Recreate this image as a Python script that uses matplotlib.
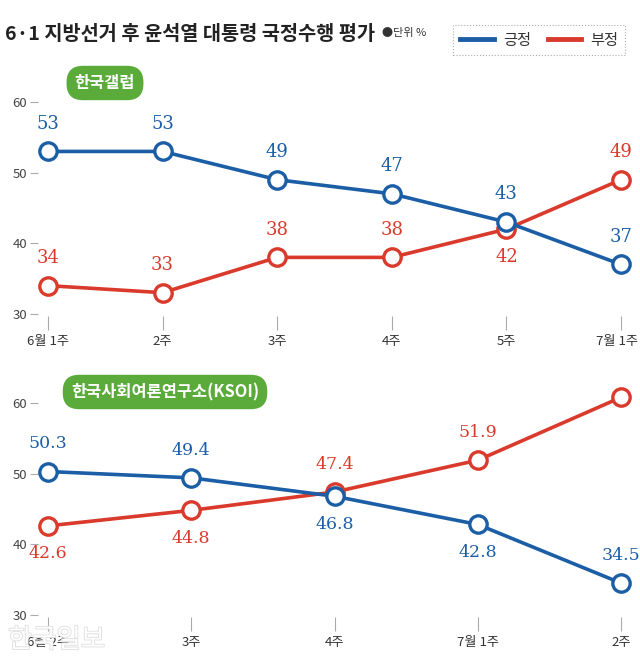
import matplotlib
matplotlib.use("Agg")
import matplotlib.pyplot as plt
from matplotlib.lines import Line2D
from matplotlib.transforms import ScaledTranslation
import matplotlib.patheffects as pe

plt.rcParams['font.family'] = ['Noto Sans CJK KR', 'DejaVu Sans']

# 한국갤럽
gallup_weeks = ['6월 1주', '2주', '3주', '4주', '5주', '7월 1주']
gallup_pos = [53, 53, 49, 47, 43, 37]
gallup_neg = [34, 33, 38, 38, 42, 49]

# 한국사회여론연구소(KSOI)
ksoi_weeks = ['6월 2주', '3주', '4주', '7월 1주', '2주']
ksoi_pos = [50.3, 49.4, 46.8, 42.8, 34.5]
ksoi_neg = [42.6, 44.8, 47.4, 51.9, 60.8]

BLUE = '#1b5ea6'
RED = '#da3a2b'
GREEN = '#5aab3a'
W, H = 640, 670

fig = plt.figure(figsize=(6.4, 6.7), dpi=100)


def px_axes(left, top, right, bottom):
    return fig.add_axes([left / W, 1 - bottom / H, (right - left) / W, (bottom - top) / H])


def draw_panel(ax, weeks, pos, neg, pos_side, neg_side, fmt, fs):
    x = list(range(len(weeks)))
    for vals, col, side in [(neg, RED, neg_side), (pos, BLUE, pos_side)]:
        ax.plot(x, vals, color=col, lw=2.6, marker='o', ms=12.5, mfc='white',
                mec=col, mew=2.4, clip_on=False, zorder=3)
        for xi, v, s in zip(x, vals, side):
            ax.annotate(fmt.format(v), (xi, v), xytext=(0, 20 * s), textcoords='offset points',
                        ha='center', va='center', color=col, fontsize=fs,
                        family='DejaVu Serif', zorder=4)
    n = len(weeks)
    pad = 10 * (n - 1) / 575
    ax.set_xlim(-pad, n - 1 + 11 * (n - 1) / 575)
    ax.set_ylim(29.7, 60)
    ax.set_yticks([30, 40, 50, 60])
    ax.set_xticks(x)
    ax.set_xticklabels(weeks)
    for s in ax.spines.values():
        s.set_visible(False)
    ax.tick_params(axis='y', length=6, width=0.8, color='#aaaaaa', labelsize=9.5,
                   labelcolor='#444444', pad=2)
    ax.tick_params(axis='x', length=10, width=0.8, color='#aaaaaa', labelsize=9.5,
                   labelcolor='#333333', pad=4)
    ax.patch.set_alpha(0)


ax1 = px_axes(38, 102, 632, 316)
draw_panel(ax1, gallup_weeks, gallup_pos, gallup_neg,
           [1, 1, 1, 1, 1, 1], [1, 1, 1, 1, -1, 1], '{:.0f}', 13)
# 마지막 라벨이 오른쪽 끝에서 잘리지 않게 살짝 왼쪽으로
last = ax1.get_xticklabels()[-1]
last.set_transform(last.get_transform() + ScaledTranslation(-4 / 100, 0, fig.dpi_scale_trans))

ax2 = px_axes(38, 403, 632, 617)
draw_panel(ax2, ksoi_weeks, ksoi_pos, ksoi_neg,
           [1, 1, -1, -1, 1], [-1, -1, 1, 1, -1], '{:.1f}', 12.5)

# 제목
fig.text(5 / W, 1 - 34 / H, '6·1 지방선거 후 윤석열 대통령 국정수행 평가', fontsize=14.2,
         fontweight='bold', color='#222222', va='center', ha='left')
fig.text(382 / W, 1 - 33 / H, '●단위 %', fontsize=8, color='#333333', va='center', ha='left')

# 범례
handles = [Line2D([], [], color=BLUE, lw=3.5), Line2D([], [], color=RED, lw=3.5)]
leg = fig.legend(handles, ['긍정', '부정'], loc='upper right', ncol=2,
                 bbox_to_anchor=(633 / W, 1 - 17 / H), fontsize=11, frameon=True,
                 handlelength=2.2, columnspacing=1.1, handletextpad=0.6,
                 borderpad=0.45, fancybox=False, labelcolor='#333333')
frame = leg.get_frame()
frame.set_edgecolor('#999999')
frame.set_linestyle(':')
frame.set_linewidth(0.8)

# 출처 배지
for cx, cy, label in [(105, 83, '한국갤럽'), (165, 392, '한국사회여론연구소(KSOI)')]:
    fig.text(cx / W, 1 - cy / H, label, fontsize=11.8, fontweight='bold', color='white',
             ha='center', va='center',
             bbox=dict(boxstyle='round,pad=0.5,rounding_size=1.0', fc=GREEN, ec='none'))

# 워터마크
fig.text(8 / W, 1 - 640 / H, '한국일보', fontsize=19, color='white', ha='left', va='center',
         path_effects=[pe.withStroke(linewidth=1.2, foreground='#dddddd')], zorder=0)

fig.savefig('out.png', dpi=100)
